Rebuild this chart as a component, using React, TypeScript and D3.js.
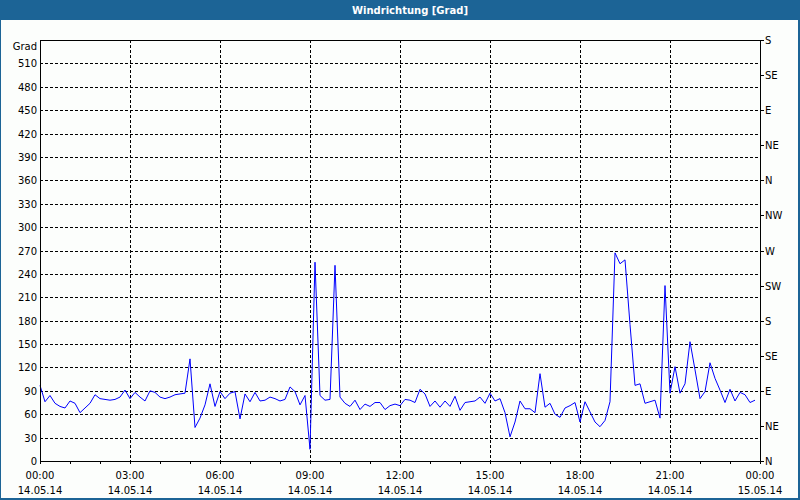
import * as d3 from "d3";

// wind direction, degrees, sampled every 10 minutes from 14.05.14 00:00
const startTime = new Date(2014, 4, 14, 0, 0);
const stepMinutes = 10;
const direction = [
  97, 76, 84, 74, 70, 68, 77, 74, 62, 68, 74, 85, 80, 79, 78, 79, 82, 91, 80, 88,
  82, 77, 90, 88, 82, 80, 82, 85, 86, 87, 131, 43, 55, 72, 99, 70, 89, 80, 87, 89,
  54, 86, 76, 88, 77, 78, 82, 80, 77, 79, 95, 89, 72, 84, 15, 255, 84, 78, 79, 251,
  82, 74, 70, 78, 66, 73, 70, 75, 75, 66, 71, 73, 71, 79, 78, 75, 92, 86, 70, 77,
  69, 77, 70, 83, 65, 75, 76, 77, 82, 74, 87, 77, 80, 62, 31, 50, 77, 67, 67, 62,
  112, 69, 74, 60, 56, 68, 71, 75, 50, 76, 63, 50, 44, 52, 76, 267, 253, 258, 175, 97,
  99, 74, 76, 78, 55, 225, 87, 121, 87, 99, 153, 117, 80, 89, 126, 106, 91, 75, 92, 77,
  88, 85, 75, 78,
];

const gradTicks = [0, 30, 60, 90, 120, 150, 180, 210, 240, 270, 300, 330, 360, 390, 420, 450, 480, 510];
const compassTicks = [0, 45, 90, 135, 180, 225, 270, 315, 360, 405, 450, 495, 540];
const compassLabels = ["N", "NE", "E", "SE", "S", "SW", "W", "NW", "N", "NE", "E", "SE", "S"];

const title = "Windrichtung [Grad]";
const unitLabel = "Grad";

const width = 800;
const height = 500;
const margin = { top: 40, right: 40, bottom: 39, left: 40 };
const frameColor = "#1c6496";
const font = "'DejaVu Sans', Verdana, sans-serif";

export default function App() {
  const endTime = d3.timeHour.offset(startTime, 24);
  const x = d3.scaleTime().domain([startTime, endTime]).range([margin.left, width - margin.right]);
  const y = d3.scaleLinear().domain([0, 540]).range([height - margin.bottom, margin.top]);

  const points = direction.map((v, i) => ({ t: d3.timeMinute.offset(startTime, i * stepMinutes), v }));
  const line = d3
    .line<{ t: Date; v: number }>()
    .x((d) => x(d.t))
    .y((d) => y(d.v));

  const majorTimes = d3.timeHour.every(3)!.range(startTime, d3.timeMinute.offset(endTime, 1));
  const hourTimes = d3.timeHour.range(startTime, d3.timeMinute.offset(endTime, 1));
  const fmtTime = d3.timeFormat("%H:%M");
  const fmtDate = d3.timeFormat("%d.%m.%y");

  const x0 = margin.left;
  const x1 = width - margin.right;
  const y0 = height - margin.bottom;
  const y1 = margin.top;

  return (
    <svg
      width={width}
      height={height}
      style={{ position: "absolute", left: 0, top: 0, display: "block" }}
      fontFamily={font}
      fontSize={10}
    >
      {/* panel */}
      <rect x={0} y={0} width={width} height={height} fill={frameColor} />
      <rect x={1} y={20} width={width - 3} height={height - 22} fill="#fcfefc" />
      <text x={width / 2 + 10} y={14} textAnchor="middle" fill="#ffffff" fontWeight="bold">
        {title}
      </text>

      {/* grid */}
      <g stroke="#000" strokeDasharray="3,2" shapeRendering="crispEdges">
        {gradTicks
          .filter((v) => v > 0)
          .map((v) => (
            <line key={"h" + v} x1={x0} x2={x1} y1={Math.round(y(v)) + 0.5} y2={Math.round(y(v)) + 0.5} />
          ))}
        {majorTimes
          .filter((t) => t > startTime && t < endTime)
          .map((t) => (
            <line key={"v" + t.getTime()} x1={Math.round(x(t)) + 0.5} x2={Math.round(x(t)) + 0.5} y1={y1} y2={y0} />
          ))}
      </g>

      {/* data */}
      <path d={line(points) ?? ""} fill="none" stroke="#0000ff" strokeWidth={1} />

      {/* frame and ticks */}
      <g stroke="#000" shapeRendering="crispEdges">
        <rect x={x0 + 0.5} y={y1 + 0.5} width={x1 - x0} height={y0 - y1} fill="none" />
        {hourTimes.map((t) => (
          <line key={"xt" + t.getTime()} x1={Math.round(x(t)) + 0.5} x2={Math.round(x(t)) + 0.5} y1={y0} y2={y0 + 3} />
        ))}
        {compassTicks.map((v) => (
          <line key={"ct" + v} x1={x1} x2={x1 + 4} y1={Math.round(y(v)) + 0.5} y2={Math.round(y(v)) + 0.5} />
        ))}
      </g>

      {/* labels */}
      <g fill="#000">
        <text x={x0 - 3} y={y(540) + 10} textAnchor="end">
          {unitLabel}
        </text>
        {gradTicks.map((v) => (
          <text key={"yl" + v} x={x0 - 3} y={y(v) + 4} textAnchor="end">
            {v}
          </text>
        ))}
        {compassTicks.map((v, i) => (
          <text key={"cl" + v} x={x1 + 5} y={y(v) + 4}>
            {compassLabels[i]}
          </text>
        ))}
        {majorTimes.map((t) => (
          <g key={"xl" + t.getTime()}>
            <text x={x(t)} y={479} textAnchor="middle">
              {fmtTime(t)}
            </text>
            <text x={x(t)} y={494} textAnchor="middle">
              {fmtDate(t)}
            </text>
          </g>
        ))}
      </g>
    </svg>
  );
}
